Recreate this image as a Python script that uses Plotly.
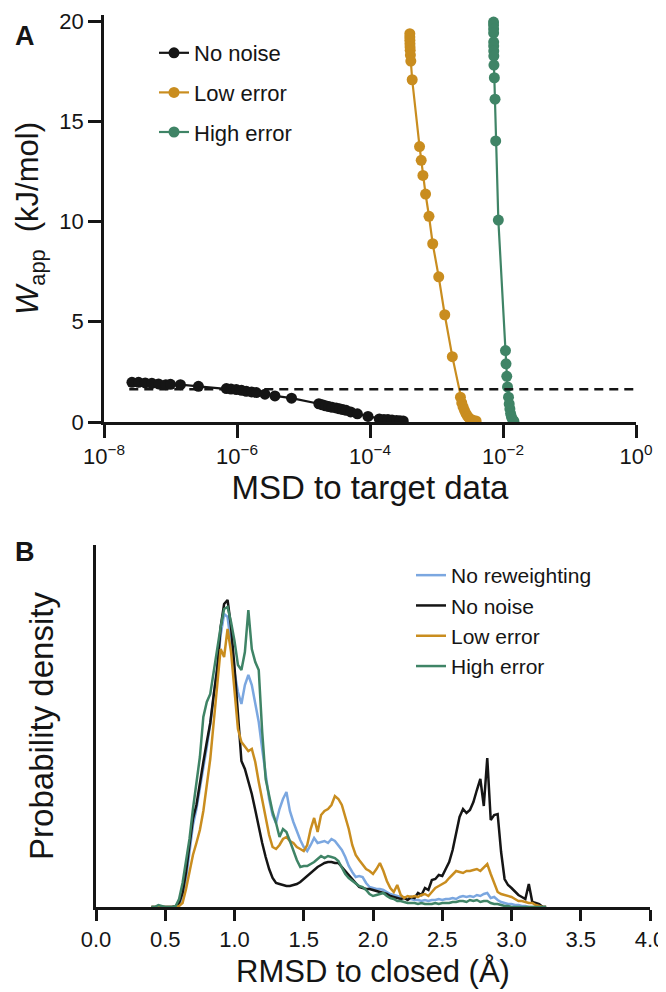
import plotly.graph_objects as go

# ---------------- Panel A data ----------------
nonoise_msd = [2.63e-8, 3.31e-8, 4.17e-8, 5.25e-8, 6.61e-8, 8.51e-8, 1.00e-7, 1.41e-7, 2.63e-7,
               6.92e-7, 8.13e-7, 9.77e-7, 1.17e-6, 1.38e-6, 1.66e-6, 1.95e-6, 2.63e-6, 3.72e-6,
               6.61e-6, 1.70e-5, 1.91e-5, 2.14e-5, 2.40e-5, 2.69e-5, 3.09e-5, 3.47e-5, 3.89e-5,
               4.37e-5, 5.13e-5, 6.46e-5, 9.33e-5, 1.38e-4, 1.62e-4, 1.86e-4, 2.14e-4, 2.51e-4,
               2.82e-4, 3.16e-4]
nonoise_w = [1.98, 1.98, 1.95, 1.93, 1.90, 1.86, 1.88, 1.86, 1.78,
             1.67, 1.64, 1.62, 1.58, 1.53, 1.50, 1.47, 1.39, 1.30,
             1.19, 0.91, 0.86, 0.81, 0.77, 0.73, 0.70, 0.66, 0.62,
             0.58, 0.50, 0.41, 0.28, 0.15, 0.13, 0.12, 0.10, 0.08,
             0.06, 0.05]

low_msd = [3.97e-4, 3.97e-4, 3.98e-4, 3.99e-4, 4.00e-4, 4.02e-4, 4.05e-4, 4.11e-4, 4.31e-4,
           5.56e-4, 5.89e-4, 6.25e-4, 6.85e-4, 7.71e-4, 8.77e-4, 1.08e-3, 1.33e-3, 1.73e-3,
           2.29e-3, 2.40e-3, 2.51e-3, 2.63e-3, 2.78e-3, 2.95e-3, 3.13e-3, 3.47e-3, 3.94e-3]
low_w = [19.37, 19.20, 19.04, 18.87, 18.70, 18.54, 18.30, 18.00, 17.07,
         13.74, 13.05, 12.30, 11.37, 10.26, 8.89, 7.24, 5.35, 3.26,
         1.24, 0.95, 0.75, 0.58, 0.42, 0.28, 0.18, 0.10, 0.05]

high_msd = [7.21e-3, 7.21e-3, 7.23e-3, 7.23e-3, 7.24e-3, 7.24e-3, 7.26e-3, 7.28e-3, 7.31e-3,
            7.41e-3, 7.59e-3, 7.76e-3, 8.51e-3, 1.09e-2, 1.11e-2, 1.14e-2, 1.17e-2, 1.21e-2,
            1.24e-2, 1.27e-2, 1.30e-2, 1.34e-2, 1.40e-2, 1.46e-2]
high_w = [19.95, 19.80, 19.60, 19.40, 18.95, 18.75, 18.50, 18.25, 17.80,
          17.17, 16.10, 14.02, 10.07, 3.56, 2.90, 2.28, 1.75, 1.24,
          0.90, 0.65, 0.42, 0.25, 0.12, 0.04]

threshold_msd = [2.4e-8, 1.0]
threshold_w = [1.63, 1.63]

x_tickvals = [1e-8, 1e-6, 1e-4, 1e-2, 1]
x_ticktext = ["10<sup>\u22128</sup>", "10<sup>\u22126</sup>", "10<sup>\u22124</sup>",
              "10<sup>\u22122</sup>", "10<sup>0</sup>"]

# ---------------- Panel B data ----------------
rmsd = [round(0.4 + 0.025 * i, 3) for i in range(115)]  # histogram bin centres (Å)

dens_norew = [0, 0, 0, 0, 0, 0, 0, 0, 0.02, 0.10,
              0.28, 0.55, 0.82, 0.98, 1.18, 1.38, 1.60, 1.83, 2.10, 2.40,
              2.72, 2.93, 2.90, 2.62, 2.35, 2.15, 2.03, 2.22, 2.32, 2.22,
              2.05, 1.85, 1.58, 1.35, 1.08, 0.92, 0.84, 0.98, 1.08, 1.15,
              0.96, 0.85, 0.75, 0.67, 0.60, 0.56, 0.62, 0.69, 0.64, 0.65,
              0.66, 0.64, 0.68, 0.66, 0.62, 0.57, 0.50, 0.41, 0.35, 0.30,
              0.31, 0.30, 0.24, 0.20, 0.19, 0.18, 0.18, 0.17, 0.15, 0.13,
              0.12, 0.11, 0.10, 0.09, 0.08, 0.08, 0.07, 0.07, 0.06, 0.07,
              0.06, 0.07, 0.07, 0.08, 0.07, 0.08, 0.08, 0.09, 0.08, 0.10,
              0.11, 0.10, 0.11, 0.10, 0.12, 0.11, 0.13, 0.14, 0.09, 0.10,
              0.07, 0.05, 0.04, 0.03, 0.03, 0.02, 0.02, 0.01, 0.01, 0.00,
              0, 0, 0, 0, 0]
dens_nonoise = [0, 0, 0, 0, 0, 0, 0, 0.01, 0.04, 0.14,
                0.35, 0.62, 0.88, 1.02, 1.26, 1.45, 1.65, 1.84, 2.12, 2.38,
                2.80, 3.03, 3.07, 2.80, 2.40, 1.95, 1.46, 1.38, 1.26, 1.13,
                0.97, 0.80, 0.64, 0.50, 0.38, 0.29, 0.24, 0.23, 0.22, 0.21,
                0.21, 0.22, 0.23, 0.25, 0.28, 0.31, 0.34, 0.37, 0.40, 0.42,
                0.44, 0.45, 0.45, 0.44, 0.44, 0.40, 0.36, 0.31, 0.28, 0.24,
                0.20, 0.19, 0.18, 0.18, 0.17, 0.16, 0.15, 0.14, 0.13, 0.11,
                0.10, 0.09, 0.08, 0.09, 0.07, 0.10, 0.09, 0.14, 0.12, 0.19,
                0.17, 0.27, 0.28, 0.32, 0.31, 0.38, 0.45, 0.57, 0.72, 0.90,
                0.98, 0.94, 0.97, 1.05, 1.17, 1.28, 1.01, 1.49, 0.87, 0.92,
                0.93, 0.55, 0.28, 0.22, 0.19, 0.15, 0.12, 0.10, 0.08, 0.23,
                0.05, 0.04, 0.03, 0.00, 0.00]
dens_low = [0, 0, 0, 0, 0, 0, 0, 0, 0.01, 0.04,
            0.18, 0.36, 0.52, 0.64, 0.77, 0.96, 1.20, 1.48, 1.85, 2.20,
            2.58, 2.50, 2.78, 2.55, 2.15, 1.78, 1.65, 1.60, 1.56, 1.58,
            1.45, 1.25, 1.08, 0.88, 0.72, 0.60, 0.58, 0.62, 0.68, 0.70,
            0.66, 0.64, 0.60, 0.58, 0.56, 0.62, 0.78, 0.89, 0.75, 0.92,
            0.96, 0.98, 1.02, 1.11, 1.08, 1.02, 0.90, 0.78, 0.62, 0.52,
            0.47, 0.42, 0.38, 0.36, 0.33, 0.38, 0.44, 0.36, 0.26, 0.19,
            0.15, 0.22, 0.12, 0.09, 0.11, 0.10, 0.11, 0.10, 0.12, 0.13,
            0.11, 0.15, 0.19, 0.21, 0.23, 0.25, 0.29, 0.33, 0.36, 0.35,
            0.34, 0.36, 0.36, 0.37, 0.38, 0.36, 0.40, 0.43, 0.33, 0.24,
            0.15, 0.13, 0.12, 0.11, 0.10, 0.08, 0.06, 0.06, 0.05, 0.04,
            0.04, 0.02, 0.01, 0.00, 0.00]
dens_high = [0, 0, 0.02, 0.01, 0, 0, 0, 0.01, 0.08, 0.24,
             0.45, 0.68, 0.98, 1.26, 1.50, 1.90, 2.05, 2.13, 2.36, 2.58,
             2.80, 2.98, 3.00, 2.85, 2.66, 2.42, 2.37, 2.55, 2.97, 2.58,
             2.45, 2.37, 1.75, 1.28, 1.12, 0.95, 0.84, 0.70, 0.78, 0.75,
             0.66, 0.56, 0.47, 0.40, 0.41, 0.41, 0.43, 0.45, 0.48, 0.51,
             0.49, 0.51, 0.50, 0.49, 0.46, 0.40, 0.33, 0.29, 0.26, 0.24,
             0.21, 0.20, 0.17, 0.13, 0.11, 0.12, 0.13, 0.14, 0.11, 0.09,
             0.08, 0.06, 0.06, 0.05, 0.04, 0.04, 0.04, 0.03, 0.04, 0.03,
             0.03, 0.03, 0.04, 0.03, 0.04, 0.04, 0.04, 0.05, 0.05, 0.06,
             0.06, 0.05, 0.07, 0.06, 0.07, 0.05, 0.06, 0.06, 0.04, 0.03,
             0.03, 0.02, 0.01, 0.01, 0, 0, 0, 0, 0, 0,
             0, 0, 0, 0, 0]

# ---------------- styling ----------------
BLACK = "#151515"
ORANGE = "#C98D1F"
GREEN = "#3F8466"
BLUE = "#7BA7E0"
FONT = "Liberation Sans, Arial, sans-serif"
OFF = 8                      # page body margin in the browser
W, H = 666 - OFF, 992 - OFF  # figure size so the page fills the window exactly

def px_x(p):
    """screen x pixel -> paper fraction"""
    return (p - OFF) / W

def px_y(p):
    """screen y pixel -> paper fraction"""
    return 1 - (p - OFF) / H

fig = go.Figure()

# Panel A
for name, xs, ys, col, grp in [("No noise", nonoise_msd, nonoise_w, BLACK, "a1"),
                               ("Low error", low_msd, low_w, ORANGE, "a2"),
                               ("High error", high_msd, high_w, GREEN, "a3")]:
    fig.add_trace(go.Scatter(x=xs, y=ys, mode="lines+markers", name=name,
                             line=dict(color=col, width=2.2),
                             marker=dict(color=col, size=11),
                             xaxis="x", yaxis="y", legend="legend", legendgroup=grp))
fig.add_trace(go.Scatter(x=threshold_msd, y=threshold_w, mode="lines", showlegend=False,
                         line=dict(color=BLACK, width=2.5, dash="9px,6px"),
                         xaxis="x", yaxis="y"))

# Panel B
for name, ys, col in [("No reweighting", dens_norew, BLUE),
                      ("No noise", dens_nonoise, BLACK),
                      ("Low error", dens_low, ORANGE),
                      ("High error", dens_high, GREEN)]:
    fig.add_trace(go.Scatter(x=rmsd, y=ys, mode="lines", name=name,
                             line=dict(color=col, width=2.5),
                             xaxis="x2", yaxis="y2", legend="legend2"))

axis_common = dict(showgrid=False, zeroline=False, showline=True, linewidth=2.5,
                   linecolor=BLACK, ticks="outside", tickwidth=2.5,
                   tickcolor=BLACK, automargin=False, ticklabeloverflow="allow",
                   tickfont=dict(size=22, color=BLACK, family=FONT))

fig.update_layout(
    template="none",
    width=W, height=H,
    margin=dict(l=0, r=0, t=0, b=0, autoexpand=False),
    paper_bgcolor="white", plot_bgcolor="white",
    font=dict(family=FONT, color=BLACK),
    xaxis=dict(type="log", range=[-8, 0], domain=[px_x(104), px_x(636)], anchor="y",
               tickvals=x_tickvals, ticktext=x_ticktext, ticklen=13,
               title=dict(text="MSD to target data", font=dict(size=33), standoff=6),
               **axis_common),
    yaxis=dict(range=[0, 20.3], domain=[px_y(422), px_y(15)], anchor="x",
               tickvals=[0, 5, 10, 15, 20], ticklen=13,
               title=dict(text="<i>W</i><sub>app</sub>\u00a0 (kJ/mol)", font=dict(size=31), standoff=12),
               **axis_common),
    xaxis2=dict(range=[0, 4], domain=[px_x(96), px_x(650)], anchor="y2",
                tickvals=[0, 0.5, 1, 1.5, 2, 2.5, 3, 3.5, 4], tickformat=".1f", ticklen=11,
                **axis_common),
    yaxis2=dict(range=[0, 3.62], domain=[px_y(907), px_y(545)], anchor="x2",
                showgrid=False, zeroline=False, showline=True, linewidth=2.5,
                linecolor=BLACK, ticks="", showticklabels=False, automargin=False,
                title=dict(text="Probability density", font=dict(size=33), standoff=30)),
    legend=dict(x=px_x(154), y=px_y(32), xanchor="left", yanchor="top",
                font=dict(size=22, color=BLACK), bgcolor="rgba(0,0,0,0)",
                tracegroupgap=8),
    legend2=dict(x=px_x(411), y=px_y(555), xanchor="left", yanchor="top",
                 font=dict(size=21, color=BLACK), bgcolor="rgba(0,0,0,0)",
                 tracegroupgap=0),
    annotations=[
        dict(text="<b>A</b>", x=px_x(13), y=px_y(19), xref="paper", yref="paper",
             showarrow=False, font=dict(size=27, color=BLACK)),
        dict(text="<b>B</b>", x=px_x(13), y=px_y(552), xref="paper", yref="paper",
             showarrow=False, font=dict(size=27, color=BLACK)),
        dict(text="RMSD to closed (\u00c5)", x=px_x(373), y=px_y(971),
             xref="paper", yref="paper", xanchor="center", yanchor="middle",
             showarrow=False, font=dict(size=31, color=BLACK)),
    ],
)

fig.write_html("out.html")
